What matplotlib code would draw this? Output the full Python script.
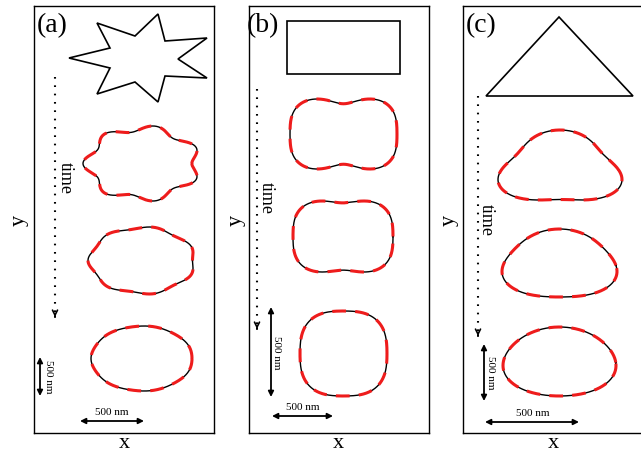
import numpy as np
import matplotlib.pyplot as plt

plt.rcParams['font.family'] = ['Liberation Serif', 'DejaVu Serif']

# initial shapes (image pixel coords)
star_x = [97, 135, 158, 165, 207, 178, 207, 165, 158, 135, 97, 110, 69, 110]
star_y = [24, 37, 15, 42, 39, 60, 79, 77, 103, 83, 95, 69, 59, 49]
rect_x = [287, 400, 400, 287]
rect_y = [22, 22, 75, 75]
tri_x = [559, 633, 486]
tri_y = [18, 97, 97]

# evolved contours: bounding box (x0, x1, y0, y1) and harmonics (k, amp, phase)
panel_a_boxes = [(83, 197, 127, 202), (88, 193, 228, 295), (91, 192, 327, 392)]
panel_a_modes = [[(7, 0.09, np.pi)], [(7, 0.035, np.pi)], [(7, 0.007, np.pi)]]
panel_b_boxes = [(290, 397, 100, 170), (293, 393, 202, 273), (300, 387, 312, 397)]
panel_b_modes = [[(2, 0.18, 0), (4, -0.1, 0)], [(2, 0.11, 0), (4, -0.08, 0)],
                 [(2, 0.0, 0), (4, -0.045, 0)]]
panel_c_boxes = [(498, 622, 131, 201), (502, 617, 230, 298), (503, 616, 328, 397)]
panel_c_modes = [[(3, 0.14, np.pi / 2)], [(3, 0.07, np.pi / 2)], [(3, 0.03, np.pi / 2)]]

frames = [(34, 214), (249, 429), (463, 643)]
top, bottom = 7, 434


def contour(box, modes, n=600):
    t = np.linspace(0, 2 * np.pi, n)
    r = np.ones_like(t)
    for k, a, ph in modes:
        r += a * np.cos(k * (t - ph))
    x = r * np.cos(t)
    y = r * np.sin(t)
    x0, x1, y0, y1 = box
    x = x0 + (x - x.min()) / (x.max() - x.min()) * (x1 - x0)
    y = y0 + (y.max() - y) / (y.max() - y.min()) * (y1 - y0)
    return x, y


fig = plt.figure(figsize=(6.41, 4.52), dpi=100)
W, H = 641, 452
axes = []
for (l, r) in frames:
    ax = fig.add_axes([l / W, (H - bottom) / H, (r - l) / W, (bottom - top) / H])
    ax.set_xlim(l, r)
    ax.set_ylim(bottom, top)
    ax.set_xticks([])
    ax.set_yticks([])
    for s in ax.spines.values():
        s.set_linewidth(1.0)
    axes.append(ax)

ax_a, ax_b, ax_c = axes

# initial shapes
ax_a.fill(star_x, star_y, facecolor='none', edgecolor='k', lw=1.2)
ax_b.fill(rect_x, rect_y, facecolor='none', edgecolor='k', lw=1.2)
ax_c.fill(tri_x, tri_y, facecolor='none', edgecolor='k', lw=1.2)

for ax, boxes, modes in [(ax_a, panel_a_boxes, panel_a_modes),
                         (ax_b, panel_b_boxes, panel_b_modes),
                         (ax_c, panel_c_boxes, panel_c_modes)]:
    for box, m in zip(boxes, modes):
        x, y = contour(box, m)
        ax.plot(x, y, color='k', lw=1.0)
        ax.plot(x, y, color='#ee1c1c', lw=2.2, dashes=(4.5, 3), solid_capstyle='butt')

# time arrows, labels, scale bars
specs = [
    # ax, label, label pos, time x, time y0, y1, time text pos, vbar, vtext, hbar, htext, ylabel x, xlabel x
    (ax_a, '(a)', (37, 26), 55, 78, 318, (65, 178), (40, 358, 397), (48, 377),
     (80, 144, 422), (112, 413), 19, 124),
    (ax_b, '(b)', (247, 26), 257, 90, 330, (266, 198), (271, 308, 398), (277, 353),
     (272, 333, 417), (303, 408), 236, 338),
    (ax_c, '(c)', (466, 26), 478, 97, 337, (486, 220), (484, 345, 402), (491, 373),
     (485, 579, 423), (533, 414), 449, 553),
]

for (ax, lab, lpos, tx, ty0, ty1, tpos, vbar, vtxt, hbar, htxt, ylx, xlx) in specs:
    ax.text(lpos[0], lpos[1], lab, fontsize=20, ha='left', va='center', clip_on=False)
    ax.plot([tx, tx], [ty0, ty1 - 4], color='k', lw=1.5, dashes=(0.8, 3.2))
    ax.annotate('', xy=(tx, ty1), xytext=(tx, ty1 - 3),
                arrowprops=dict(arrowstyle='->', lw=1.2, mutation_scale=9, color='k'))
    ax.text(tpos[0], tpos[1], 'time', fontsize=13, rotation=-90, ha='center', va='center')
    ax.annotate('', xy=(vbar[0], vbar[1]), xytext=(vbar[0], vbar[2]),
                arrowprops=dict(arrowstyle='<|-|>', lw=1.3, mutation_scale=8, color='k',
                                shrinkA=0, shrinkB=0))
    ax.text(vtxt[0], vtxt[1], '500 nm', fontsize=8, rotation=-90, ha='center', va='center')
    ax.annotate('', xy=(hbar[0], hbar[2]), xytext=(hbar[1], hbar[2]),
                arrowprops=dict(arrowstyle='<|-|>', lw=1.3, mutation_scale=8, color='k',
                                shrinkA=0, shrinkB=0))
    ax.text(htxt[0], htxt[1], '500 nm', fontsize=8, ha='center', va='center')
    ax.text(ylx, 220, 'y', fontsize=16, rotation=90, ha='center', va='center', clip_on=False)
    ax.text(xlx, 444, 'x', fontsize=16, ha='center', va='center', clip_on=False)

fig.savefig('out.png', dpi=100)
